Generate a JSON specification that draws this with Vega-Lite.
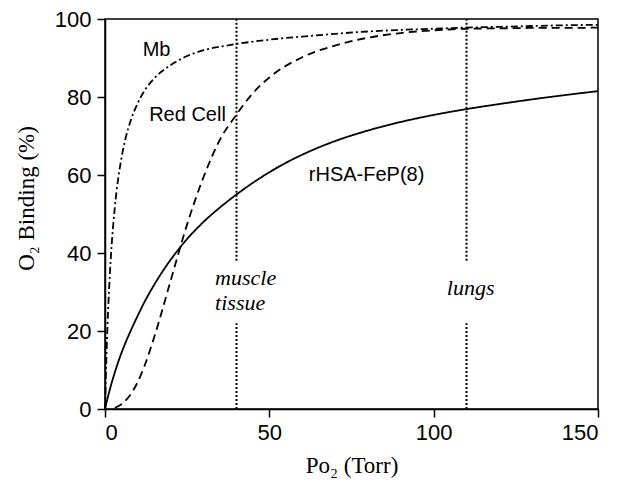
{
  "$schema": "https://vega.github.io/schema/vega-lite/v6.json",
  "width": 493,
  "height": 390,
  "autosize": "none",
  "padding": {"left": 105, "top": 19, "right": 37, "bottom": 73},
  "background": "white",
  "config": {
    "view": {"stroke": "black", "strokeWidth": 1.5},
    "axis": {
      "grid": false,
      "domainColor": "black",
      "domainWidth": 1.5,
      "tickColor": "black",
      "tickWidth": 1.5,
      "tickSize": 8,
      "labelFont": "Liberation Sans",
      "labelFontSize": 22,
      "labelColor": "black",
      "titleFont": "Liberation Serif",
      "titleFontSize": 23,
      "titleFontWeight": "normal",
      "titleColor": "black"
    }
  },
  "datasets": {
    "curves": [
      {"series": "Mb", "x": 0, "y": 0},
      {"series": "Mb", "x": 0.25, "y": 8.2},
      {"series": "Mb", "x": 0.5, "y": 15.2},
      {"series": "Mb", "x": 1, "y": 26.3},
      {"series": "Mb", "x": 1.5, "y": 34.9},
      {"series": "Mb", "x": 2, "y": 41.7},
      {"series": "Mb", "x": 3, "y": 51.8},
      {"series": "Mb", "x": 4, "y": 59.0},
      {"series": "Mb", "x": 5, "y": 64.3},
      {"series": "Mb", "x": 6, "y": 68.5},
      {"series": "Mb", "x": 8, "y": 74.4},
      {"series": "Mb", "x": 10, "y": 78.5},
      {"series": "Mb", "x": 12, "y": 81.6},
      {"series": "Mb", "x": 15, "y": 84.8},
      {"series": "Mb", "x": 20, "y": 88.2},
      {"series": "Mb", "x": 25, "y": 90.5},
      {"series": "Mb", "x": 30, "y": 92.0},
      {"series": "Mb", "x": 35, "y": 92.9},
      {"series": "Mb", "x": 40, "y": 93.6},
      {"series": "Mb", "x": 50, "y": 94.7},
      {"series": "Mb", "x": 60, "y": 95.5},
      {"series": "Mb", "x": 70, "y": 96.2},
      {"series": "Mb", "x": 80, "y": 96.8},
      {"series": "Mb", "x": 90, "y": 97.2},
      {"series": "Mb", "x": 100, "y": 97.5},
      {"series": "Mb", "x": 110, "y": 97.8},
      {"series": "Mb", "x": 120, "y": 98.0},
      {"series": "Mb", "x": 130, "y": 98.2},
      {"series": "Mb", "x": 140, "y": 98.4},
      {"series": "Mb", "x": 150, "y": 98.5},
      {"series": "Red Cell", "x": 3, "y": 0.3},
      {"series": "Red Cell", "x": 5, "y": 1.2},
      {"series": "Red Cell", "x": 8, "y": 4.0},
      {"series": "Red Cell", "x": 10, "y": 7.0},
      {"series": "Red Cell", "x": 12, "y": 11.0},
      {"series": "Red Cell", "x": 15, "y": 18.5},
      {"series": "Red Cell", "x": 20, "y": 33.0},
      {"series": "Red Cell", "x": 25, "y": 47.4},
      {"series": "Red Cell", "x": 30, "y": 59.5},
      {"series": "Red Cell", "x": 35, "y": 69.1},
      {"series": "Red Cell", "x": 40, "y": 75.5},
      {"series": "Red Cell", "x": 45, "y": 81.0},
      {"series": "Red Cell", "x": 50, "y": 85.0},
      {"series": "Red Cell", "x": 60, "y": 90.2},
      {"series": "Red Cell", "x": 70, "y": 93.2},
      {"series": "Red Cell", "x": 80, "y": 95.2},
      {"series": "Red Cell", "x": 90, "y": 96.4},
      {"series": "Red Cell", "x": 100, "y": 97.1},
      {"series": "Red Cell", "x": 110, "y": 97.5},
      {"series": "Red Cell", "x": 120, "y": 97.6},
      {"series": "Red Cell", "x": 130, "y": 97.7},
      {"series": "Red Cell", "x": 140, "y": 97.7},
      {"series": "Red Cell", "x": 150, "y": 97.8},
      {"series": "rHSA-FeP(8)", "x": 0, "y": 0},
      {"series": "rHSA-FeP(8)", "x": 1, "y": 3.5},
      {"series": "rHSA-FeP(8)", "x": 2, "y": 6.6},
      {"series": "rHSA-FeP(8)", "x": 4, "y": 12.0},
      {"series": "rHSA-FeP(8)", "x": 6, "y": 16.5},
      {"series": "rHSA-FeP(8)", "x": 8, "y": 20.4},
      {"series": "rHSA-FeP(8)", "x": 10, "y": 24.0},
      {"series": "rHSA-FeP(8)", "x": 12, "y": 27.4},
      {"series": "rHSA-FeP(8)", "x": 15, "y": 31.9},
      {"series": "rHSA-FeP(8)", "x": 20, "y": 38.3},
      {"series": "rHSA-FeP(8)", "x": 25, "y": 43.6},
      {"series": "rHSA-FeP(8)", "x": 30, "y": 48.0},
      {"series": "rHSA-FeP(8)", "x": 35, "y": 51.7},
      {"series": "rHSA-FeP(8)", "x": 40, "y": 55.0},
      {"series": "rHSA-FeP(8)", "x": 45, "y": 58.0},
      {"series": "rHSA-FeP(8)", "x": 50, "y": 60.7},
      {"series": "rHSA-FeP(8)", "x": 55, "y": 63.1},
      {"series": "rHSA-FeP(8)", "x": 60, "y": 65.2},
      {"series": "rHSA-FeP(8)", "x": 70, "y": 68.7},
      {"series": "rHSA-FeP(8)", "x": 80, "y": 71.4},
      {"series": "rHSA-FeP(8)", "x": 90, "y": 73.6},
      {"series": "rHSA-FeP(8)", "x": 100, "y": 75.4},
      {"series": "rHSA-FeP(8)", "x": 110, "y": 76.9},
      {"series": "rHSA-FeP(8)", "x": 120, "y": 78.2},
      {"series": "rHSA-FeP(8)", "x": 130, "y": 79.4},
      {"series": "rHSA-FeP(8)", "x": 140, "y": 80.5},
      {"series": "rHSA-FeP(8)", "x": 150, "y": 81.5}
    ],
    "rules": [
      {"x": 40, "y": 0, "y2": 22},
      {"x": 40, "y": 38, "y2": 100},
      {"x": 110, "y": 0, "y2": 22},
      {"x": 110, "y": 38, "y2": 100}
    ],
    "curveLabels": [
      {"x": 15.7, "y": 92.1, "text": "Mb"},
      {"x": 25.1, "y": 75.4, "text": "Red Cell"},
      {"x": 79.6, "y": 60.0, "text": "rHSA-FeP(8)"}
    ],
    "siteLabels": [
      {"x": 33.5, "y": 31.8, "text": "muscle"},
      {"x": 33.5, "y": 25.4, "text": "tissue"},
      {"x": 104.0, "y": 29.2, "text": "lungs"}
    ]
  },
  "layer": [
    {
      "data": {"name": "rules"},
      "mark": {"type": "rule", "color": "black", "strokeWidth": 2, "strokeDash": [2, 2]},
      "encoding": {
        "x": {"field": "x", "type": "quantitative", "scale": {"domain": [0, 150], "nice": false}},
        "y": {"field": "y", "type": "quantitative", "scale": {"domain": [0, 100], "nice": false}},
        "y2": {"field": "y2"}
      }
    },
    {
      "data": {"name": "curves"},
      "mark": {"type": "line", "color": "black", "strokeWidth": 1.8, "interpolate": "monotone"},
      "encoding": {
        "x": {
          "field": "x", "type": "quantitative",
          "scale": {"domain": [0, 150], "nice": false},
          "axis": {"values": [0, 50, 100, 150], "title": "Po₂ (Torr)", "labelPadding": 5, "titleBaseline": "alphabetic", "titleY": 63}
        },
        "y": {
          "field": "y", "type": "quantitative",
          "scale": {"domain": [0, 100], "nice": false},
          "axis": {"values": [0, 20, 40, 60, 80, 100], "title": "O₂ Binding (%)", "labelPadding": 6, "titleBaseline": "alphabetic", "titleX": -72, "titleY": 179}
        },
        "detail": {"field": "series"},
        "strokeDash": {
          "field": "series", "type": "nominal",
          "scale": {"domain": ["Mb", "Red Cell", "rHSA-FeP(8)"], "range": [[7, 3, 2, 3], [8, 5], [1, 0]]},
          "legend": null
        },
        "strokeWidth": {
          "field": "series", "type": "nominal",
          "scale": {"domain": ["Mb", "Red Cell", "rHSA-FeP(8)"], "range": [1.8, 1.8, 2.2]},
          "legend": null
        }
      }
    },
    {
      "data": {"name": "curveLabels"},
      "mark": {"type": "text", "font": "Liberation Sans", "fontSize": 20, "color": "black", "align": "center", "baseline": "middle"},
      "encoding": {
        "x": {"field": "x", "type": "quantitative"},
        "y": {"field": "y", "type": "quantitative"},
        "text": {"field": "text"}
      }
    },
    {
      "data": {"name": "siteLabels"},
      "mark": {"type": "text", "font": "Liberation Serif", "fontStyle": "italic", "fontSize": 22, "color": "black", "align": "left", "baseline": "alphabetic"},
      "encoding": {
        "x": {"field": "x", "type": "quantitative"},
        "y": {"field": "y", "type": "quantitative"},
        "text": {"field": "text"}
      }
    }
  ]
}
